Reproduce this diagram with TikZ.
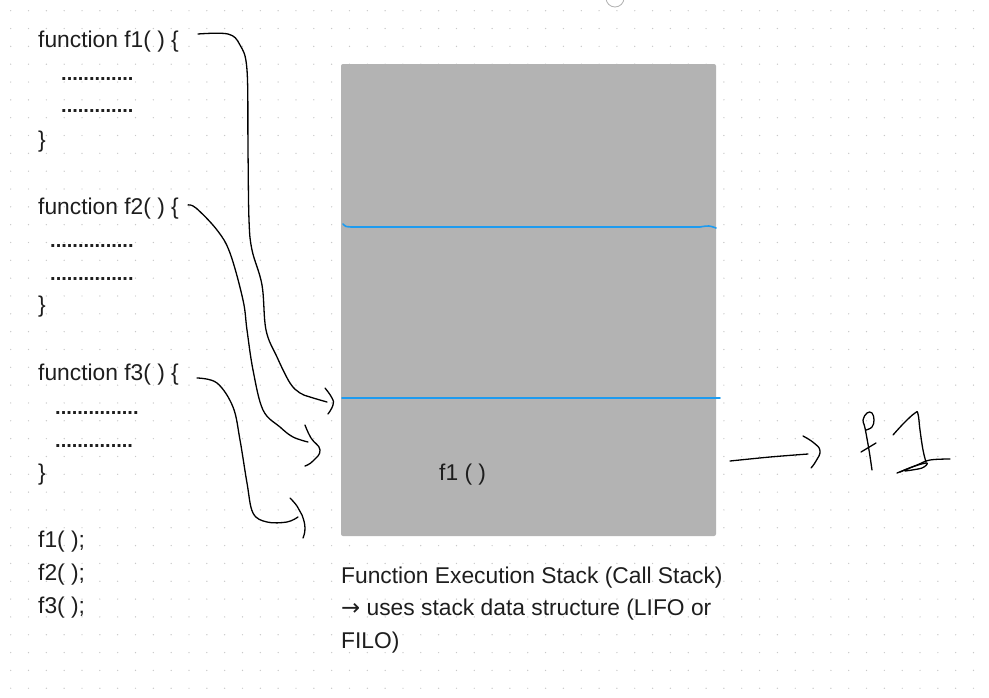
\documentclass[tikz,border=0pt]{standalone}
\usepackage{fontspec}
\setmainfont{Liberation Sans}
\newfontfamily\symfont{DejaVu Sans}
\definecolor{dotc}{HTML}{C8C8C8}
\definecolor{stackgray}{HTML}{B3B3B3}
\definecolor{inkblue}{HTML}{1D9BF0}
\definecolor{inktext}{HTML}{1E1E1E}
\begin{document}
\begin{tikzpicture}[x=1pt,y=-1pt,
  code/.style={anchor=base west,inner sep=0pt,text=inktext,font=\fontsize{22.8}{26}\selectfont},
  dotsline/.style={anchor=base west,inner sep=0pt,text=inktext,font=\fontsize{20}{24}\selectfont\bfseries},
  stackbox/.style={fill=stackgray,rounded corners=2pt,inner sep=0pt,minimum width=375pt,minimum height=472pt},
  pen/.style={draw=black,line width=1.3pt,line cap=round,line join=round},
  bluepen/.style={draw=inkblue,line width=1.6pt,line cap=round}]
\useasboundingbox (0,0) rectangle (989,697);
\fill[white] (0,0) rectangle (989,697);
% dotted grid
\foreach \i in {0,...,55}{\foreach \j in {0,...,38}{\fill[dotc] (10.7+17.83*\i,10.7+17.83*\j) circle (0.7);}}
% UI artifact at top
\draw[gray!60,line width=0.8pt] (615,-2) circle (9);
% stack
\node[stackbox] (stack) at (528.5,300) {};
\coordinate (b1l) at (343,224);
\coordinate (b1r) at (716,228);
\draw[bluepen] (b1l) .. controls (345,226.5) .. (351,227) -- (700,227) .. controls (709,225.5) .. (b1r);
\coordinate (b2l) at (342,398);
\coordinate (b2r) at (720,398);
\draw[bluepen] (b2l) -- (b2r);
\node[code] (lab) at (439,480) {f1 ( )};
% code
\node[code] (f1def) at (38,47) {function f1( ) \{};
\node[dotsline] (d11) at (61,80) {.............};
\node[dotsline] (d12) at (61,112) {.............};
\node[code] (c1) at (38,147) {\}};
\node[code] (f2def) at (38,214) {function f2( ) \{};
\node[dotsline] (d21) at (50,247) {...............};
\node[dotsline] (d22) at (50,280) {...............};
\node[code] (c2) at (38,312) {\}};
\node[code] (f3def) at (38,380) {function f3( ) \{};
\node[dotsline] (d31) at (55,414) {...............};
\node[dotsline] (d32) at (55,447) {..............};
\node[code] (c3) at (38,480) {\}};
\node[code] (call1) at (38,547) {f1( );};
\node[code] (call2) at (38,580) {f2( );};
\node[code] (call3) at (38,613) {f3( );};
% caption
\node[code] (cap1) at (341,583) {Function Execution Stack (Call Stack)};
\node[code] (cap2) at (341,615) {{\symfont →} uses stack data structure (LIFO or};
\node[code] (cap3) at (341,648) {FILO)};
% hand-drawn connectors
\coordinate (s1) at (198,34);
\coordinate (e1) at (327,402);
\draw[pen] plot[smooth,tension=0.6] coordinates {(s1) (228,34) (240,45) (247,70) (248,150) (249,220) (252,250) (262,285) (266,330) (277,357) (290,383) (300,393) (310,397) (e1)};
\draw[pen] plot[smooth,tension=0.8] coordinates {(325,388) (332,398) (333,405) (328,414)};
\coordinate (s2) at (188,205);
\coordinate (e2) at (308,442);
\draw[pen] plot[smooth,tension=0.6] coordinates {(s2) (196,208) (217,230) (230,253) (243,300) (247,330) (253,370) (263,410) (280,427) (293,437) (e2)};
\draw[pen] plot[smooth,tension=0.8] coordinates {(305,425) (311,438) (320,450) (313,461) (305,466)};
\coordinate (s3) at (197,378);
\coordinate (e3) at (298,517);
\draw[pen] plot[smooth,tension=0.6] coordinates {(s3) (217,383) (233,407) (240,440) (247,483) (253,513) (267,522) (287,522) (e3)};
\draw[pen] plot[smooth,tension=0.8] coordinates {(290,498) (297,506) (302,515) (305,528) (303,538)};
% right arrow and handwritten f1
\coordinate (a0) at (730,461);
\coordinate (a1) at (808,454);
\draw[pen] plot[smooth,tension=0.5] coordinates {(a0) (770,457) (a1)};
\draw[pen] plot[smooth,tension=0.8] coordinates {(803,436) (814,443) (820,451) (816,461) (811,468)};
\draw[pen] plot[smooth,tension=0.7] coordinates {(872,470) (869,450) (865,428) (863,420) (867,413) (872,413) (874,420) (872,427) (866,430)};
\draw[pen] (861,452) -- (876,443);
\draw[pen] plot[smooth,tension=0.7] coordinates {(893,435) (904,423) (915,413) (918,414) (920,430) (923,450) (926,462)};
\draw[pen] plot[smooth,tension=0.6] coordinates {(897,473) (917,465) (930,460) (950,459)};
\draw[pen] plot[smooth,tension=0.6] coordinates {(900,472) (915,466) (927,463) (922,468) (905,471)};
\end{tikzpicture}
\end{document}
